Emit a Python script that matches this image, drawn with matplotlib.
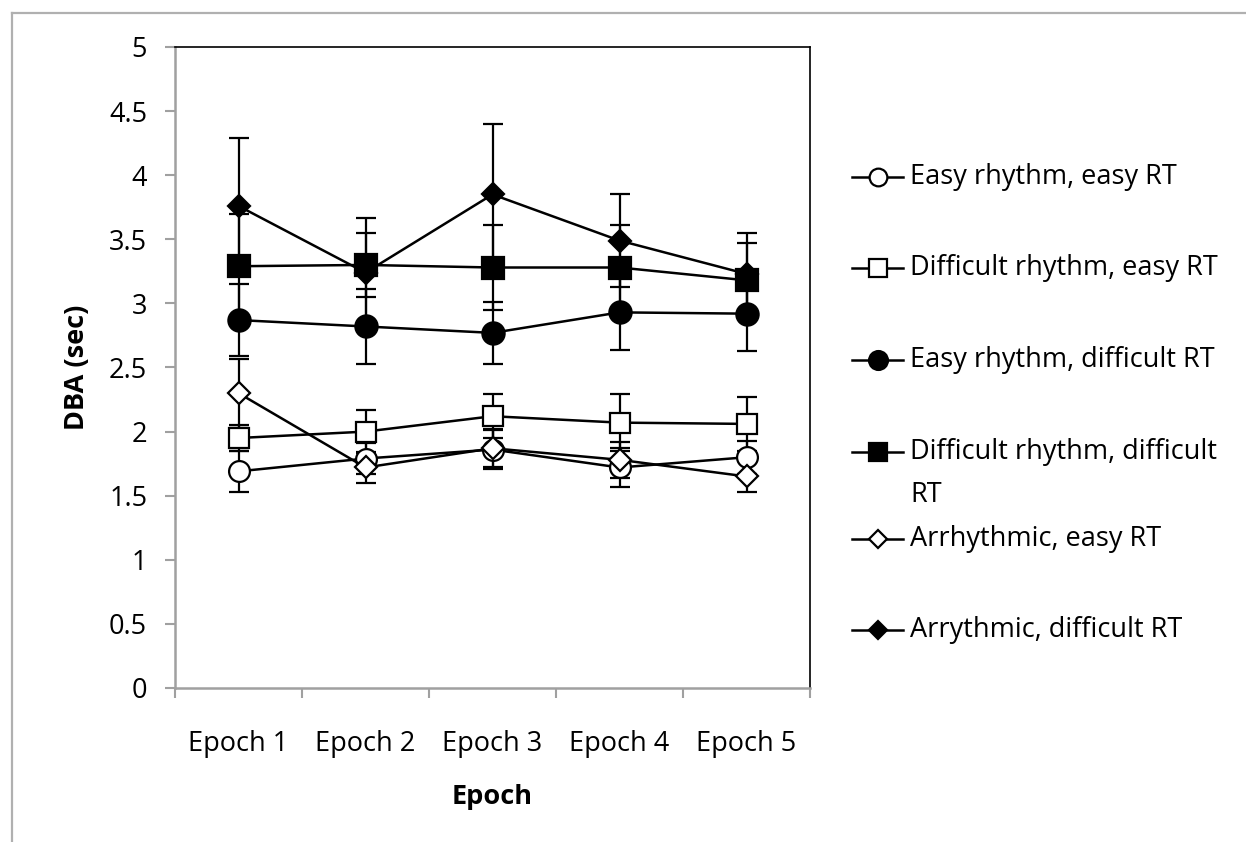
import numpy as np
import matplotlib.pyplot as plt
from matplotlib.lines import Line2D

plt.rcParams['font.family'] = ['Open Sans', 'DejaVu Sans']

epochs = ['Epoch 1', 'Epoch 2', 'Epoch 3', 'Epoch 4', 'Epoch 5']

series_names = [
    'Easy rhythm, easy RT',
    'Difficult rhythm, easy RT',
    'Easy rhythm, difficult RT',
    'Difficult rhythm, difficult\nRT',
    'Arrhythmic, easy RT',
    'Arrythmic, difficult RT',
]

easy_easy = [1.69, 1.79, 1.86, 1.72, 1.80]
easy_easy_err = [0.16, 0.12, 0.15, 0.15, 0.13]

diff_easy = [1.95, 2.00, 2.12, 2.07, 2.06]
diff_easy_err = [0.10, 0.17, 0.17, 0.22, 0.21]

easy_diff = [2.87, 2.82, 2.77, 2.93, 2.92]
easy_diff_err = [0.28, 0.29, 0.24, 0.29, 0.29]

diff_diff = [3.29, 3.30, 3.28, 3.28, 3.18]
diff_diff_err = [0.41, 0.25, 0.33, 0.33, 0.29]

arr_easy = [2.30, 1.72, 1.87, 1.78, 1.65]
arr_easy_err = [0.27, 0.12, 0.15, 0.14, 0.12]

arr_diff = [3.76, 3.24, 3.85, 3.49, 3.23]
arr_diff_err = [0.53, 0.43, 0.55, 0.36, 0.32]

means = [easy_easy, diff_easy, easy_diff, diff_diff, arr_easy, arr_diff]
errs = [easy_easy_err, diff_easy_err, easy_diff_err, diff_diff_err, arr_easy_err, arr_diff_err]

# marker, face colour, marker size
styles = [
    ('o', 'white', 15),
    ('s', 'white', 14.5),
    ('o', 'black', 16),
    ('s', 'black', 15.5),
    ('D', 'white', 11),
    ('D', 'black', 11),
]

FS = 19.5

fig = plt.figure(figsize=(12.46, 8.42), dpi=100)
ax = fig.add_axes([175 / 1246, 1 - 688 / 842, 635 / 1246, 641 / 842])

x = np.arange(len(epochs))
for m, e, (mk, fc, ms) in zip(means, errs, styles):
    ax.errorbar(x, m, yerr=e, color='black', lw=1.8, elinewidth=1.6,
                capsize=7, capthick=1.6, marker=mk, mfc=fc, mec='black',
                mew=1.6, ms=ms)

ax.set_xlim(-0.5, 4.5)
ax.set_ylim(0, 5)
ax.set_yticks(np.arange(0, 5.01, 0.5))
ax.set_yticklabels(['0', '0.5', '1', '1.5', '2', '2.5', '3', '3.5', '4', '4.5', '5'])

# tick marks between categories, labels at the centres
ax.set_xticks(np.arange(-0.5, 4.6, 1))
ax.set_xticklabels([])
ax.set_xticks(x, minor=True)
ax.set_xticklabels(epochs, minor=True)
ax.tick_params(axis='x', which='minor', length=0, pad=30, labelsize=FS)
ax.tick_params(axis='x', which='major', direction='out', length=7, width=1.5, color='#a0a0a0')
ax.tick_params(axis='y', direction='out', length=7, width=1.5, color='#a0a0a0', pad=13, labelsize=FS)

for side in ['left', 'bottom']:
    ax.spines[side].set_color('#a0a0a0')
    ax.spines[side].set_linewidth(1.8)
for side in ['top', 'right']:
    ax.spines[side].set_color('black')
    ax.spines[side].set_linewidth(1.2)

ax.set_ylabel('DBA (sec)', fontsize=FS, fontweight='bold', labelpad=14)
ax.set_xlabel('Epoch', fontsize=FS, fontweight='bold', labelpad=19)

# legend drawn by hand to the right of the plot
W, H = 1246, 842
rows_y = [177, 268, 360, 452, 539, 630]
for name, (mk, fc, ms), ry in zip(series_names, styles, rows_y):
    yy = 1 - ry / H
    fig.add_artist(Line2D([852 / W, 903 / W], [yy, yy], color='black', lw=1.8))
    fig.add_artist(Line2D([878 / W], [yy], marker=mk, mfc=fc, mec='black',
                          mew=1.6, ms=ms * 0.85, color='black'))
    for k, part in enumerate(name.split('\n')):
        fig.text(910 / W, yy - k * 43 / H, part, fontsize=FS, va='center', ha='left')

# outer chart frame
fig.add_artist(Line2D([12 / W, 12 / W], [0, 1 - 13 / H], color='#b0b0b0', lw=1.6))
fig.add_artist(Line2D([12 / W, 1], [1 - 13 / H, 1 - 13 / H], color='#b0b0b0', lw=1.6))

fig.savefig('out.png', dpi=100)
